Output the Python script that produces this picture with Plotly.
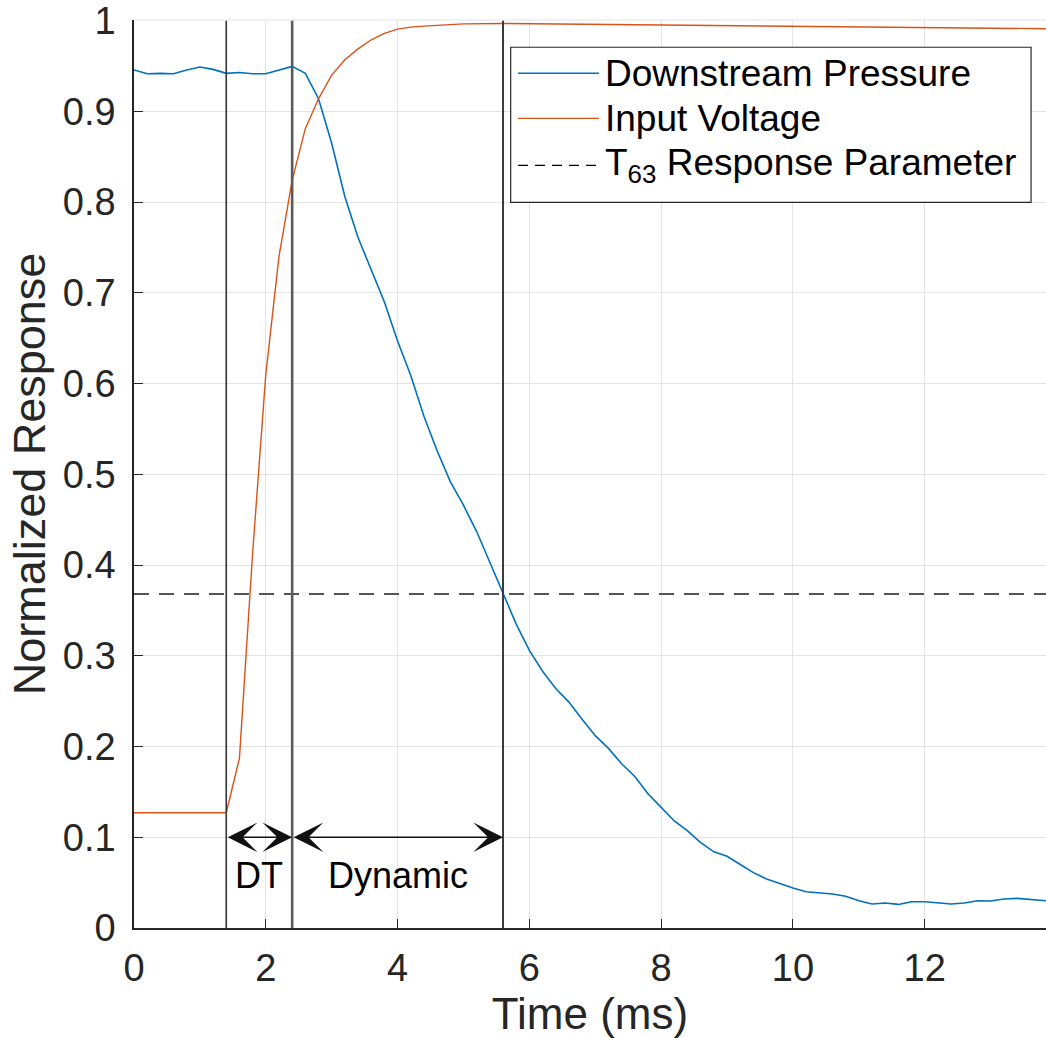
import plotly.graph_objects as go

# ---------------- data ----------------
pressure_t = [0.0, 0.2, 0.4, 0.6, 0.8, 1.0, 1.2, 1.4, 1.6, 1.8, 2.0, 2.2, 2.4, 2.6, 2.8,
              3.0, 3.2, 3.4, 3.6, 3.8, 4.0, 4.2, 4.4, 4.6, 4.8, 5.0, 5.2, 5.4, 5.6, 5.8,
              6.0, 6.2, 6.4, 6.6, 6.8, 7.0, 7.2, 7.4, 7.6, 7.8, 8.0, 8.2, 8.4, 8.6, 8.8,
              9.0, 9.2, 9.4, 9.6, 9.8, 10.0, 10.2, 10.4, 10.6, 10.8, 11.0, 11.2, 11.4,
              11.6, 11.8, 12.0, 12.2, 12.4, 12.6, 12.8, 13.0, 13.2, 13.4, 13.6, 13.84]
pressure_v = [0.9457, 0.9416, 0.942, 0.9416, 0.9457, 0.949, 0.9464, 0.942, 0.943, 0.9416,
              0.9416, 0.9457, 0.9497, 0.942, 0.914, 0.865, 0.806, 0.761, 0.726, 0.690,
              0.647, 0.609, 0.564, 0.526, 0.492, 0.466, 0.437, 0.403, 0.369, 0.335,
              0.306, 0.283, 0.264, 0.249, 0.230, 0.212, 0.198, 0.181, 0.167, 0.148,
              0.133, 0.118, 0.107, 0.094, 0.084, 0.079, 0.070, 0.061, 0.054, 0.049,
              0.044, 0.040, 0.039, 0.0375, 0.035, 0.030, 0.0265, 0.0275, 0.026, 0.029,
              0.029, 0.0275, 0.0265, 0.0275, 0.030, 0.0297, 0.032, 0.0327, 0.0316, 0.030]

voltage_t = [0.0, 0.2, 0.4, 0.6, 0.8, 1.0, 1.2, 1.4, 1.6, 1.8, 2.0, 2.2, 2.4, 2.6, 2.8,
             3.0, 3.2, 3.4, 3.6, 3.8, 4.0, 4.2, 4.4, 4.6, 4.8, 5.0, 5.6, 6.6, 7.6, 8.6,
             9.6, 10.6, 11.6, 12.6, 13.84]
voltage_v = [0.127, 0.127, 0.127, 0.127, 0.127, 0.127, 0.127, 0.127, 0.187, 0.413, 0.610,
             0.740, 0.824, 0.881, 0.914, 0.940, 0.957, 0.969, 0.979, 0.986, 0.9908, 0.993,
             0.994, 0.995, 0.996, 0.9965, 0.997, 0.9963, 0.9956, 0.9948, 0.994, 0.993,
             0.9923, 0.9918, 0.9912]

DT_START = 1.4      # ms
DT_END = 2.4        # ms
T63_TIME = 5.6      # ms
T63_LEVEL = 0.368   # normalized
ARROW_LEVEL = 0.1
LABEL_LEVEL = 0.058

x_ticks = [0, 2, 4, 6, 8, 10, 12]
y_ticks = [0, 0.1, 0.2, 0.3, 0.4, 0.5, 0.6, 0.7, 0.8, 0.9, 1]
y_tick_text = ["0", "0.1", "0.2", "0.3", "0.4", "0.5", "0.6", "0.7", "0.8", "0.9", "1"]

legend_names = ["Downstream Pressure", "Input Voltage", "T<sub>63</sub> Response Parameter"]

BLUE = "#0072BD"
ORANGE = "#D95319"
FONT = "Liberation Sans, Arial, Helvetica, sans-serif"
AX = "#262626"
GRID = "#e3e3e3"

fig = go.Figure()
fig.add_trace(go.Scatter(x=pressure_t, y=pressure_v, mode="lines", name=legend_names[0],
                         line=dict(color=BLUE, width=1.6), showlegend=False))
fig.add_trace(go.Scatter(x=voltage_t, y=voltage_v, mode="lines", name=legend_names[1],
                         line=dict(color=ORANGE, width=1.4), showlegend=False))

# top grid line (at y = 1, the axis limit)
fig.add_shape(type="line", xref="paper", x0=0, x1=1, yref="paper", y0=1, y1=1,
              line=dict(color=GRID, width=1), layer="below")

# T63 dashed level
fig.add_shape(type="line", xref="paper", x0=0, x1=1, yref="y", y0=T63_LEVEL, y1=T63_LEVEL,
              line=dict(color="#555555", width=2, dash="15px,10px"), layer="above")

# vertical marker lines
for xv, col, w in [(DT_START, "#333333", 1.6), (DT_END, "#5a5a5a", 2.6), (T63_TIME, "#3a3a3a", 2.0)]:
    fig.add_shape(type="line", xref="x", x0=xv, x1=xv, yref="y", y0=0, y1=1,
                  line=dict(color=col, width=w), layer="above")

# double-headed arrows
for a, b in [(DT_START, DT_END), (DT_END, T63_TIME)]:
    fig.add_annotation(x=b, y=ARROW_LEVEL, ax=a, ay=ARROW_LEVEL, xref="x", yref="y",
                       axref="x", ayref="y", text="", showarrow=True, arrowhead=3,
                       startarrowhead=3, arrowside="end+start", arrowsize=3.3,
                       startarrowsize=3.3, arrowwidth=1.5, arrowcolor="#111111",
                       standoff=0, startstandoff=0)

fig.add_annotation(x=(DT_START + DT_END) / 2, y=LABEL_LEVEL, xref="x", yref="y", text="DT",
                   showarrow=False, font=dict(family=FONT, size=36, color="#000000"))
fig.add_annotation(x=(DT_END + T63_TIME) / 2, y=LABEL_LEVEL, xref="x", yref="y", text="Dynamic",
                   showarrow=False, font=dict(family=FONT, size=36, color="#000000"))

# manual legend (MATLAB style)
LX0, LX1, LY0, LY1 = 0.413, 0.9836, 0.7992, 0.970
fig.add_shape(type="rect", xref="paper", yref="paper", x0=LX0, x1=LX1, y0=LY0, y1=LY1,
              line=dict(color="#262626", width=1.2), fillcolor="white", layer="above")
rows_y = [0.9413, 0.8917, 0.8400]
styles = [dict(color=BLUE, width=1.6), dict(color=ORANGE, width=1.4),
          dict(color="#000000", width=1.2, dash="10px,7px")]
for name, ry, st in zip(legend_names, rows_y, styles):
    fig.add_shape(type="line", xref="paper", yref="paper", x0=0.4211, x1=0.5099,
                  y0=ry, y1=ry, line=st, layer="above")
    fig.add_annotation(xref="paper", yref="paper", x=0.5142, y=ry, text=name, showarrow=False,
                       xanchor="left", yanchor="middle",
                       font=dict(family=FONT, size=37, color="#000000"))

fig.update_layout(
    width=1046, height=1038,
    margin=dict(l=134, r=0, t=20, b=110),
    paper_bgcolor="white", plot_bgcolor="white",
    font=dict(family=FONT, color=AX),
    showlegend=False,
)
fig.update_xaxes(range=[0, 13.84], tickvals=x_ticks, ticks="inside", ticklen=9, tickwidth=1.2,
                 tickcolor=AX, showline=True, linecolor=AX, linewidth=1.5, mirror=False,
                 showgrid=True, gridcolor=GRID, gridwidth=1, zeroline=False, automargin=False,
                 ticklabeloverflow="allow",
                 tickfont=dict(family=FONT, size=38, color=AX), ticklabelstandoff=6,
                 title=dict(text="Time (ms)", font=dict(family=FONT, size=44, color=AX), standoff=0))
fig.update_yaxes(range=[0, 1.0008], tickvals=y_ticks, ticktext=y_tick_text, ticks="inside", ticklen=9,
                 tickwidth=1.2, tickcolor=AX, showline=True, linecolor=AX, linewidth=1.5,
                 showgrid=True, gridcolor=GRID, gridwidth=1, zeroline=False, automargin=False,
                 ticklabeloverflow="allow",
                 tickfont=dict(family=FONT, size=38, color=AX), ticklabelstandoff=9,
                 title=dict(text="Normalized Response", font=dict(family=FONT, size=45, color=AX), standoff=3))

# remove the default 8px page margin so the figure fills the window exactly
fig.write_html("out.html", config={"displayModeBar": False},
               post_script="document.body.style.margin='0';document.body.style.overflow='hidden';")
